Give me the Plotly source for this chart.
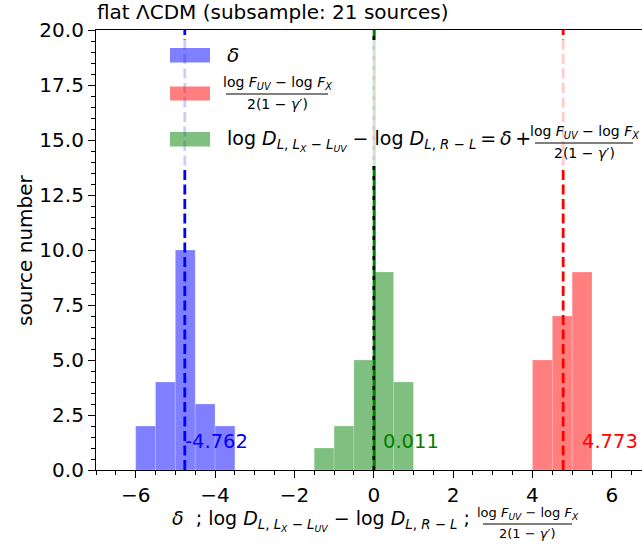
import plotly.graph_objects as go

# ---------------- data ----------------
BIN_WIDTH = 0.5
delta_bin_left = [-6.0, -5.5, -5.0, -4.5, -4.0]
delta_counts = [2, 4, 10, 3, 2]
diff_bin_left = [-1.5, -1.0, -0.5, 0.0, 0.5]
diff_counts = [1, 2, 5, 9, 4]
flux_bin_left = [4.0, 4.5, 5.0]
flux_counts = [5, 7, 9]
mean_values = [-4.762, 0.011, 4.773]   # delta, diff, flux
x_tick_vals = [-6, -4, -2, 0, 2, 4, 6]
y_tick_vals = [0, 2.5, 5, 7.5, 10, 12.5, 15, 17.5, 20]

# ---------------- layout helpers ----------------
W, H = 642, 552
L, R, T, B = 96, 642, 30, 470
FONT = "DejaVu Sans"


def xp(px):
    return (px - L) / (R - L)


def yp(py):
    return (B - py) / (B - T)


fig = go.Figure()

BLUE_F = "rgba(0,0,255,0.5)"
RED_F = "rgba(255,0,0,0.5)"
GREEN_F = "rgba(0,128,0,0.5)"
EDGE = dict(width=0.6, color="rgba(255,255,255,0.35)")

for lefts, counts, col in [(delta_bin_left, delta_counts, BLUE_F),
                           (flux_bin_left, flux_counts, RED_F),
                           (diff_bin_left, diff_counts, GREEN_F)]:
    fig.add_trace(go.Bar(x=lefts, y=counts, offset=0, width=BIN_WIDTH,
                         marker=dict(color=col, line=EDGE), showlegend=False,
                         hoverinfo="skip"))

# mean lines
m_d, m_g, m_f = mean_values
fig.add_trace(go.Scatter(x=[m_d, m_d], y=[0, 20], mode="lines", showlegend=False,
                         line=dict(color="#0000ff", width=2.8, dash="10px,4.5px")))
fig.add_trace(go.Scatter(x=[m_f, m_f], y=[0, 20], mode="lines", showlegend=False,
                         line=dict(color="#ff0000", width=2.8, dash="10px,4.5px")))
fig.add_trace(go.Scatter(x=[m_g, m_g], y=[0, 20], mode="lines", showlegend=False,
                         line=dict(color="#008000", width=3)))
fig.add_trace(go.Scatter(x=[0, 0], y=[0, 20], mode="lines", showlegend=False,
                         line=dict(color="#000000", width=2.5, dash="4px,6px")))

ann = []
# mean value labels
label_x = [m_d - 0.03, m_g + 0.19, m_f + 0.44]
for m, lx, col in zip(mean_values, label_x, ["#0000ff", "#008000", "#ff0000"]):
    ann.append(dict(x=lx, y=1.3, xref="x", yref="y", text=f"{m:.3f}", showarrow=False,
                    xanchor="left", yanchor="middle", borderpad=0,
                    font=dict(family=FONT, size=19.5, color=col)))

# title
ann.append(dict(x=xp(96), y=yp(12), xref="paper", yref="paper", showarrow=False,
                text="flat ΛCDM (subsample: 21 sources)", xanchor="left", yanchor="middle",
                borderpad=0, font=dict(family=FONT, size=20, color="black")))
# y title
ann.append(dict(x=xp(25), y=yp(250), xref="paper", yref="paper", showarrow=False,
                text="source number", textangle=-90, xanchor="center", yanchor="middle",
                borderpad=0, font=dict(family=FONT, size=20, color="black")))

NUM = "log <i>F</i><sub><i>UV</i></sub> − log <i>F</i><sub><i>X</i></sub>"
DEN = "2(1 − <i>γ</i>′)"
DL = ("log <i>D</i><sub><i>L</i>, <i>L</i><sub><i>X</i></sub> − <i>L</i><sub><i>UV</i></sub></sub>"
      " − log <i>D</i><sub><i>L</i>, <i>R</i> − <i>L</i></sub>")

shapes = []


def fraction(cx, bar_y, x0, x1, size):
    ann.append(dict(x=xp(cx), y=yp(bar_y - 1), xref="paper", yref="paper", showarrow=False,
                    text=NUM, xanchor="center", yanchor="bottom", borderpad=0,
                    font=dict(family=FONT, size=size, color="black")))
    ann.append(dict(x=xp(cx), y=yp(bar_y + 1), xref="paper", yref="paper", showarrow=False,
                    text=DEN, xanchor="center", yanchor="top", borderpad=0,
                    font=dict(family=FONT, size=size, color="black")))
    shapes.append(dict(type="line", xref="paper", yref="paper", x0=xp(x0), x1=xp(x1),
                       y0=yp(bar_y), y1=yp(bar_y), line=dict(color="black", width=1.2)))


# x-axis label
ann.append(dict(x=xp(171), y=yp(520), xref="paper", yref="paper", showarrow=False,
                text="<i>δ</i>  ; " + DL + " ;", xanchor="left", yanchor="middle", borderpad=0,
                font=dict(family=FONT, size=19, color="black")))
fraction(527.5, 524, 483, 572, 13)

# legend box (semi-transparent white, above the lines)
shapes.append(dict(type="rect", xref="paper", yref="paper", layer="above",
                   x0=xp(162), x1=xp(638), y0=yp(166), y1=yp(40),
                   fillcolor="rgba(255,255,255,0.8)", line=dict(width=0)))
for (y0, y1), col in [((48, 62.5), BLUE_F), ((86.5, 100.5), RED_F), ((132, 146.5), GREEN_F)]:
    shapes.append(dict(type="rect", xref="paper", yref="paper", layer="above",
                       x0=xp(170), x1=xp(210), y0=yp(y1), y1=yp(y0),
                       fillcolor=col, line=dict(width=0)))

ann.append(dict(x=xp(226), y=yp(55), xref="paper", yref="paper", showarrow=False,
                text="<i>δ</i>", xanchor="left", yanchor="middle", borderpad=0,
                font=dict(family=FONT, size=20, color="black")))
fraction(277, 94, 226, 328, 14)
ann.append(dict(x=xp(226), y=yp(140), xref="paper", yref="paper", showarrow=False,
                text=DL + "\u2009=\u2009<i>δ</i>\u2009+", xanchor="left", yanchor="middle",
                borderpad=0, font=dict(family=FONT, size=19, color="black")))
fraction(584, 143, 535, 633, 14)

axis_common = dict(showline=True, linecolor="black", linewidth=1.2, ticks="outside",
                   ticklen=7, tickwidth=1.2, tickcolor="black", showgrid=False, zeroline=False,
                   tickfont=dict(family=FONT, size=20, color="black"))

fig.update_layout(
    width=W, height=H,
    margin=dict(l=L, r=W - R, t=T, b=H - B, autoexpand=False),
    paper_bgcolor="white", plot_bgcolor="white",
    barmode="overlay", showlegend=False,
    xaxis=dict(range=[-7, 6.76], tickvals=x_tick_vals, mirror=True,
               minor=dict(dtick=0.5, tick0=0, ticks="outside", ticklen=3.5, tickcolor="black", tickwidth=1),
               **axis_common),
    yaxis=dict(range=[0, 20], tickvals=y_tick_vals, tickformat=".1f",
               minor=dict(dtick=0.5, tick0=0, ticks="outside", ticklen=3.5, tickcolor="black", tickwidth=1),
               **axis_common),
    annotations=ann, shapes=shapes,
)

fig.write_html("out.html", config={"displayModeBar": False},
               post_script="document.body.style.margin='0';")
